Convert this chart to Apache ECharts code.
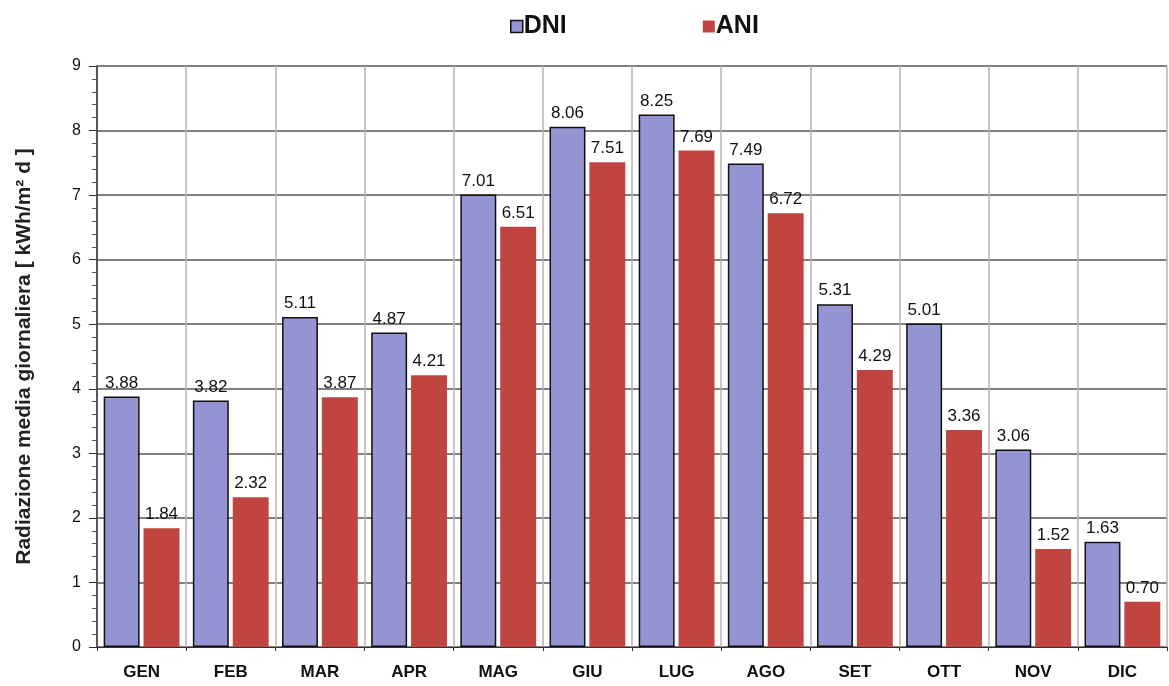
<!DOCTYPE html>
<html><head><meta charset="utf-8">
<script src="https://cdn.jsdelivr.net/npm/echarts@6/dist/echarts.min.js"></script>
<style>html,body{margin:0;padding:0;background:#fff}#c{width:1169px;height:686px}</style>
</head><body><div id="c"></div>
<script>
const categories = ['GEN','FEB','MAR','APR','MAG','GIU','LUG','AGO','SET','OTT','NOV','DIC'];
const dni = [3.88,3.82,5.11,4.87,7.01,8.06,8.25,7.49,5.31,5.01,3.06,1.63];
const ani = [1.84,2.32,3.87,4.21,6.51,7.51,7.69,6.72,4.29,3.36,1.52,0.70];
const yTicks = [0,1,2,3,4,5,6,7,8,9];

const chart = echarts.init(document.getElementById('c'));
const lbl = {show:true, position:'top', distance:5, fontFamily:'Liberation Sans, Arial', fontSize:17, color:'#111', formatter:p=>p.value.toFixed(2)};
chart.setOption({
  animation:false,
  textStyle:{fontFamily:'Liberation Sans, Arial'},
  legend:{
    top:9, left:505, itemGap:136, itemWidth:12, itemHeight:12,
    textStyle:{fontSize:25, fontWeight:'bold', color:'#111', padding:[0,0,0,-4]},
    data:[{name:'DNI', icon:'rect', itemStyle:{borderColor:'#111', borderWidth:1.5}},{name:'ANI', icon:'rect'}]
  },
  grid:{left:97, right:2, top:66, bottom:39, containLabel:false},
  xAxis:{
    type:'category', data:categories,
    axisLine:{show:true, lineStyle:{color:'#333', width:1}},
    axisTick:{show:true, length:4, lineStyle:{color:'#333'}},
    axisLabel:{fontSize:17, fontWeight:'bold', color:'#111', margin:17},
    splitLine:{show:true, lineStyle:{color:'#b8b0b0', width:1.5}}
  },
  yAxis:{
    type:'value', min:0, max:9, interval:1,
    name:'Radiazione media giornaliera [ kWh/m² d ]', nameLocation:'middle', nameGap:62,
    nameTextStyle:{fontSize:21, fontWeight:'bold', color:'#222'},
    axisLine:{show:true, lineStyle:{color:'#333', width:1.5}},
    axisTick:{show:true, length:8, inside:false, lineStyle:{color:'#333'}},
    minorTick:{show:true, splitNumber:5, length:5, lineStyle:{color:'#555'}},
    axisLabel:{fontSize:16, color:'#111', margin:16, formatter:v=>yTicks.includes(v)?String(v):''},
    splitLine:{show:true, lineStyle:{color:'#5a5555', width:1.5}}
  },
  series:[
    {name:'DNI', type:'bar', data:dni, barGap:'11%', barCategoryGap:'15%',
     itemStyle:{color:'#9494d2', borderColor:'#111', borderWidth:1.5}, label:lbl},
    {name:'ANI', type:'bar', data:ani,
     itemStyle:{color:'#c0443f'}, label:lbl}
  ]
});
</script></body></html>
